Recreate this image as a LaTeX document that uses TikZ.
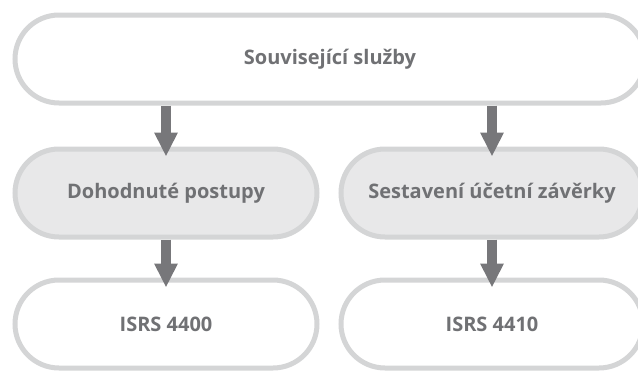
\documentclass[tikz,border=0pt]{standalone}
\usepackage{fontspec}
\setmainfont{Open Sans}
\usetikzlibrary{positioning,arrows.meta}
\definecolor{EdgeGrey}{RGB}{212,213,214}
\definecolor{SoftGrey}{RGB}{232,232,233}
\definecolor{ArrowGrey}{RGB}{119,119,122}
\definecolor{TextGrey}{RGB}{112,113,116}

\begin{document}
\begin{tikzpicture}[x=1pt, y=-1pt,
    every node/.style={font=\bfseries\fontsize{20}{24}\selectfont, text=TextGrey, align=center},
    plain/.style={draw=EdgeGrey, fill=white, line width=5pt, rounded corners=44pt,
                  minimum width=302pt, minimum height=88pt},
    shaded/.style={plain, fill=SoftGrey},
    arr/.style={-{Triangle[width=22pt,length=24pt]}, draw=ArrowGrey, line width=10.5pt,
                shorten >=-10pt}
  ]
  \useasboundingbox (0,0) rectangle (638,370);
  \clip (0,0) rectangle (638,370);
  \node[plain, minimum width=630pt] (rel) at (330,59) {Související služby};
  \node[shaded, below right=41pt and 0pt of rel.south west] (agr) {Dohodnuté postupy};
  \node[shaded, right=19pt of agr] (cmp) {Sestavení účetní závěrky};
  \node[plain, below=38pt of agr] (isa) {ISRS 4400};
  \node[plain, below=38pt of cmp] (isb) {ISRS 4410};
  \draw[arr] (rel.south -| agr) -- (agr.north);
  \draw[arr] (rel.south -| cmp) -- (cmp.north);
  \draw[arr] (agr.south) -- (isa.north);
  \draw[arr] (cmp.south) -- (isb.north);
\end{tikzpicture}
\end{document}
